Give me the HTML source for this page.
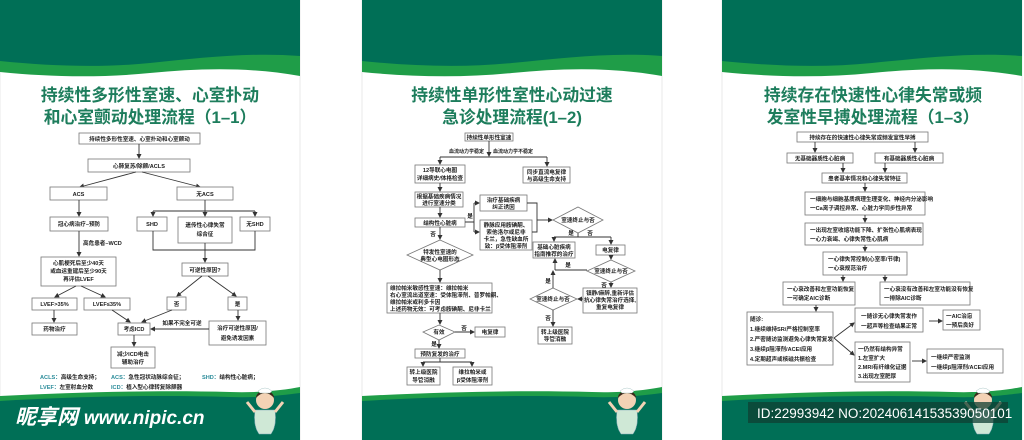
<!DOCTYPE html>
<html><head><meta charset="utf-8"><style>
html,body{margin:0;padding:0;background:#fff;}
svg{display:block;}
text{font-family:"Liberation Sans","Noto Sans CJK SC",sans-serif;fill:#222;}
.b{fill:#fff;stroke:#777;stroke-width:0.8;}
.t{font-size:5.6px;font-weight:bold;text-anchor:middle;}
.tl{font-size:5.6px;font-weight:bold;}
.ti{font-size:16.8px;font-weight:bold;fill:#1d7d5c;text-anchor:middle;}
.l{stroke:#333;stroke-width:0.9;fill:none;}
.a{stroke:#333;stroke-width:0.9;fill:none;marker-end:url(#ar);}
.d{fill:#fff;stroke:#777;stroke-width:0.8;}
</style></head><body>
<svg width="1024" height="440" viewBox="0 0 1024 440" xmlns="http://www.w3.org/2000/svg">
<defs>
<marker id="ar" markerWidth="5" markerHeight="5" refX="4" refY="2.5" orient="auto" markerUnits="userSpaceOnUse"><path d="M0,0 L5,2.5 L0,5 Z" fill="#333"/></marker>
<g id="hdr">
<rect x="0" y="0" width="300" height="440" fill="#fff" stroke="#ddd" stroke-width="0.6"/>
<path d="M0,72 C50,77 100,78 150,73 C200,68 250,67 300,76 V50 H0 Z" fill="#1f9d48"/>
<path d="M0,0 H300 V56 C250,52 200,58 150,63 C100,68 50,66 0,61 Z" fill="#006f56"/>
<path d="M0,396 C80,392 160,390 230,392 C260,393 285,390 300,387 V440 H0 Z" fill="#1f9d48"/>
<path d="M0,401 C80,396 160,395 230,397 C260,398 285,395 300,393 V440 H0 Z" fill="#006f56"/>
</g>
<g id="nurse">
<path d="M-10,12 Q-12,28 -6,36 H6 Q12,28 10,12 Z" fill="#cfe8d6" stroke="#8ab" stroke-width="0.5"/>
<circle cx="0" cy="2" r="9" fill="#f3d2b5"/>
<path d="M-9,0 Q0,-10 9,0 Q9,-6 0,-8 Q-9,-6 -9,0Z" fill="#3a2a1a"/>
<path d="M-7,-7 Q0,-13 7,-7 L5,-5 H-5Z" fill="#fff" stroke="#9bb" stroke-width="0.4"/>
<path d="M-10,14 L-18,4 M10,14 L18,4" stroke="#f3d2b5" stroke-width="3"/>
</g>
</defs>

<use href="#hdr" x="0"/>
<use href="#hdr" x="362"/>
<use href="#hdr" x="722"/>

<!-- ================= PANEL 1 ================= -->
<text class="ti" x="150" y="101">持续性多形性室速、心室扑动</text>
<text class="ti" x="150" y="123">和心室颤动处理流程（1–1）</text>
<rect class="b" x="79" y="133" width="121" height="11"/><text class="t" x="139.5" y="141">持续性多形性室速、心室扑动和心室颤动</text>
<line class="a" x1="139" y1="144" x2="139" y2="158"/>
<rect class="b" x="88" y="159" width="102" height="13"/><text class="t" x="139" y="168">心肺复苏/除颤/ACLS</text>
<line class="a" x1="136" y1="172" x2="80" y2="187"/>
<line class="a" x1="142" y1="172" x2="200" y2="187"/>
<rect class="b" x="50" y="187" width="57" height="13"/><text class="t" x="78.5" y="196">ACS</text>
<rect class="b" x="177" y="187" width="56" height="13"/><text class="t" x="205" y="196">无ACS</text>
<line class="a" x1="79" y1="200" x2="79" y2="216"/>
<rect class="b" x="50" y="217" width="58" height="14"/><text class="t" x="79" y="226">冠心病治疗–预防</text>
<line class="l" x1="205" y1="200" x2="205" y2="211"/>
<line class="l" x1="153" y1="211" x2="255" y2="211"/>
<line class="a" x1="153" y1="211" x2="153" y2="216"/>
<line class="a" x1="205" y1="211" x2="205" y2="216"/>
<line class="a" x1="255" y1="211" x2="255" y2="216"/>
<rect class="b" x="137" y="217" width="30" height="14"/><text class="t" x="152" y="226">SHD</text>
<rect class="b" x="178" y="217" width="54" height="26"/><text class="t" x="205" y="227">遗传性心律失常</text><text class="t" x="205" y="236">综合征</text>
<rect class="b" x="240" y="217" width="30" height="14"/><text class="t" x="255" y="226">无SHD</text>
<path class="l" d="M153,231 V250 H255 V231"/>
<line class="a" x1="205" y1="243" x2="205" y2="262"/>
<rect class="b" x="182" y="263" width="46" height="13"/><text class="t" x="205" y="272">可逆性原因?</text>
<line class="a" x1="79" y1="231" x2="79" y2="256"/>
<text class="tl" x="83" y="245">高危患者–WCD</text>
<rect class="b" x="41" y="257" width="75" height="29"/>
<text class="t" x="78.5" y="265">心肌梗死后至少40天</text><text class="t" x="78.5" y="273">或血运重建后至少90天</text><text class="t" x="78.5" y="281">再评估LVEF</text>
<line class="a" x1="76" y1="286" x2="55" y2="297"/>
<line class="a" x1="81" y1="286" x2="105" y2="297"/>
<rect class="b" x="32" y="298" width="45" height="12"/><text class="t" x="54.5" y="306">LVEF&gt;35%</text>
<rect class="b" x="84" y="298" width="46" height="12"/><text class="t" x="107" y="306">LVEF≤35%</text>
<line class="a" x1="54" y1="310" x2="54" y2="322"/>
<rect class="b" x="32" y="323" width="45" height="12"/><text class="t" x="54.5" y="331">药物治疗</text>
<line class="a" x1="202" y1="276" x2="177" y2="296"/>
<line class="a" x1="208" y1="276" x2="236" y2="296"/>
<rect class="b" x="167" y="297" width="19" height="13"/><text class="t" x="176.5" y="306">否</text>
<rect class="b" x="228" y="297" width="19" height="13"/><text class="t" x="237.5" y="306">是</text>
<line class="a" x1="112" y1="310" x2="130" y2="322"/>
<line class="a" x1="172" y1="310" x2="142" y2="322"/>
<line class="a" x1="238" y1="310" x2="238" y2="320"/>
<rect class="b" x="118" y="323" width="32" height="12"/><text class="t" x="134" y="331">考虑ICD</text>
<rect class="b" x="209" y="321" width="57" height="24"/><text class="t" x="237.5" y="330">治疗可逆性原因/</text><text class="t" x="237.5" y="340">避免诱发因素</text>
<line class="a" x1="209" y1="329" x2="151" y2="329"/>
<text class="t" x="182" y="325">如果不完全可逆</text>
<line class="a" x1="134" y1="335" x2="134" y2="346"/>
<rect class="b" x="111" y="347" width="44" height="21"/><text class="t" x="133" y="356">减少ICD电击</text><text class="t" x="133" y="364">辅助治疗</text>
<text class="tl" x="40" y="379"><tspan fill="#2b8c9a">ACLS：</tspan>高级生命支持；</text>
<text class="tl" x="111" y="379"><tspan fill="#2b8c9a">ACS：</tspan>急性冠状动脉综合征；</text>
<text class="tl" x="202" y="379"><tspan fill="#2b8c9a">SHD：</tspan>结构性心脏病；</text>
<text class="tl" x="40" y="389"><tspan fill="#2b8c9a">LVEF：</tspan>左室射血分数</text>
<text class="tl" x="111" y="389"><tspan fill="#2b8c9a">ICD：</tspan>植入型心律转复除颤器</text>
<text x="15" y="424" style="font-size:21px;font-weight:bold;fill:#fff;font-style:italic;">昵享网 <tspan style="font-size:19px">www.nipic.cn</tspan></text>
<use href="#nurse" x="265" y="398"/>

<!-- ================= PANEL 2 ================= -->
<text class="ti" x="512" y="101">持续性单形性室性心动过速</text>
<text class="ti" x="512" y="123">急诊处理流程(1–2)</text>
<rect class="b" x="465" y="133" width="48" height="8"/><text class="t" x="489" y="139.5">持续性单形性室速</text>
<line class="a" x1="489" y1="141" x2="489" y2="156"/>
<text class="tl" x="449" y="153" style="font-size:5px">血流动力学稳定</text>
<text class="tl" x="493" y="153" style="font-size:5px">血流动力学不稳定</text>
<line class="l" x1="440" y1="157" x2="547" y2="157"/>
<line class="a" x1="440" y1="157" x2="440" y2="164"/>
<line class="a" x1="547" y1="157" x2="547" y2="166"/>
<rect class="b" x="415" y="165" width="50" height="18"/><text class="t" x="440" y="172">12导联心电图</text><text class="t" x="440" y="180">详细病史/体格检查</text>
<rect class="b" x="523" y="167" width="47" height="16"/><text class="t" x="546.5" y="174">同步直流电复律</text><text class="t" x="546.5" y="181">与高级生命支持</text>
<line class="a" x1="440" y1="183" x2="440" y2="191"/>
<rect class="b" x="415" y="192" width="48" height="15"/><text class="t" x="439" y="198.5">根据基础疾病情况</text><text class="t" x="439" y="205">进行室速分类</text>
<line class="a" x1="440" y1="207" x2="440" y2="217"/>
<rect class="b" x="415" y="218" width="50" height="9"/><text class="t" x="440" y="225">结构性心脏病</text>
<text class="t" x="470" y="218">是</text>
<path class="l" d="M465,222 H474 M474,203 V232"/>
<line class="a" x1="474" y1="203" x2="479" y2="203"/>
<line class="a" x1="474" y1="232" x2="479" y2="232"/>
<rect class="b" x="480" y="195" width="47" height="16"/><text class="t" x="503.5" y="202">治疗基础疾病</text><text class="t" x="503.5" y="209">纠正诱因</text>
<rect class="b" x="480" y="220" width="52" height="30"/>
<text class="t" x="506" y="227">静脉应用胺碘酮、</text><text class="t" x="506" y="234">索他洛尔或尼非</text><text class="t" x="506" y="241">卡兰，急性缺血所</text><text class="t" x="506" y="248">致：β受体阻滞剂</text>
<path class="l" d="M527,203 H537 V232 H532"/>
<line class="a" x1="537" y1="220" x2="552" y2="220"/>
<polygon class="d" points="578,207 603,220 578,233 553,220"/><text class="t" x="578" y="222">室速终止与否</text>
<line class="l" x1="578" y1="233" x2="578" y2="237"/>
<line class="l" x1="554" y1="237" x2="611" y2="237"/>
<text class="t" x="571" y="235">是</text><text class="t" x="590" y="235">否</text>
<line class="a" x1="554" y1="237" x2="554" y2="241"/>
<line class="a" x1="611" y1="237" x2="611" y2="244"/>
<rect class="b" x="533" y="242" width="42" height="16"/><text class="t" x="554" y="249">基础心脏疾病</text><text class="t" x="554" y="256">指南推荐的治疗</text>
<rect class="b" x="596" y="245" width="29" height="10"/><text class="t" x="610.5" y="252">电复律</text>
<line class="a" x1="611" y1="255" x2="611" y2="259"/>
<polygon class="d" points="611,260 635,271 611,282 587,271"/><text class="t" x="611" y="273">室速终止与否</text>
<path class="l" d="M587,270 H555"/>
<line class="a" x1="555" y1="270" x2="555" y2="259"/>
<text class="t" x="568" y="267">是</text>
<text class="t" x="604" y="287">否</text>
<line class="a" x1="611" y1="282" x2="611" y2="287"/>
<rect class="b" x="583" y="288" width="54" height="25"/>
<text class="t" x="610" y="295">镇静/麻醉,重新评估</text><text class="t" x="610" y="302">抗心律失常治疗选择,</text><text class="t" x="610" y="309">重复电复律</text>
<line class="a" x1="583" y1="299" x2="578" y2="299"/>
<polygon class="d" points="553,288 577,299 553,310 530,299"/><text class="t" x="553" y="301">室速终止与否</text>
<line class="a" x1="553" y1="288" x2="553" y2="271"/>
<text class="t" x="548" y="283">是</text>
<text class="t" x="548" y="320">否</text>
<line class="a" x1="553" y1="310" x2="553" y2="326"/>
<rect class="b" x="538" y="327" width="34" height="17"/><text class="t" x="555" y="334">转上级医院</text><text class="t" x="555" y="341">导管消融</text>
<line class="a" x1="440" y1="227" x2="440" y2="239"/>
<text class="t" x="433" y="236">否</text>
<polygon class="d" points="440,240 473,255 440,270 407,255"/><text class="t" x="440" y="254">特发性室速的</text><text class="t" x="440" y="261">典型心电图形态</text>
<line class="a" x1="440" y1="270" x2="440" y2="282"/>
<rect class="b" x="387" y="283" width="105" height="30"/>
<text class="tl" x="390" y="290">维拉帕米敏感性室速：维拉帕米</text><text class="tl" x="390" y="297">右心室流出道室速：受体阻滞剂、普罗帕酮、</text><text class="tl" x="390" y="304">维拉帕米或利多卡因</text><text class="tl" x="390" y="311">上述药物无效：可考虑胺碘酮、尼非卡兰</text>
<line class="a" x1="440" y1="313" x2="440" y2="324"/>
<polygon class="d" points="439,325 455,332 439,340 423,332"/><text class="t" x="439" y="334">有效</text>
<line class="a" x1="455" y1="332" x2="474" y2="332"/><text class="t" x="464" y="330">否</text>
<rect class="b" x="475" y="327" width="30" height="10"/><text class="t" x="490" y="334">电复律</text>
<line class="a" x1="439" y1="340" x2="439" y2="348"/><text class="t" x="434" y="346">是</text>
<rect class="b" x="415" y="349" width="50" height="9"/><text class="t" x="440" y="356">预防复发的治疗</text>
<path class="l" d="M440,358 V362 M423,362 H472"/>
<line class="a" x1="423" y1="362" x2="423" y2="366"/>
<line class="a" x1="472" y1="362" x2="472" y2="366"/>
<rect class="b" x="407" y="367" width="33" height="18"/><text class="t" x="423.5" y="374">转上级医院</text><text class="t" x="423.5" y="382">导管消融</text>
<rect class="b" x="453" y="367" width="39" height="18"/><text class="t" x="472.5" y="374">维拉帕米或</text><text class="t" x="472.5" y="382">β受体阻滞剂</text>
<use href="#nurse" x="627" y="398"/>

<!-- ================= PANEL 3 ================= -->
<text class="ti" x="873" y="101">持续存在快速性心律失常或频</text>
<text class="ti" x="873" y="123">发室性早搏处理流程（1–3）</text>
<rect class="b" x="797" y="132" width="131" height="10"/><text class="t" x="862.5" y="139.5">持续存在的快速性心律失常或频发室性早搏</text>
<line class="a" x1="815" y1="142" x2="815" y2="152"/>
<line class="a" x1="915" y1="142" x2="915" y2="152"/>
<rect class="b" x="787" y="153" width="66" height="10"/><text class="t" x="820" y="160.5">无基础器质性心脏病</text>
<rect class="b" x="875" y="153" width="68" height="10"/><text class="t" x="909" y="160.5">有基础器质性心脏病</text>
<line class="a" x1="843" y1="163" x2="843" y2="172"/>
<line class="a" x1="885" y1="163" x2="885" y2="172"/>
<rect class="b" x="822" y="173" width="85" height="10"/><text class="t" x="864.5" y="180.5">患者基本情况和心律失常特征</text>
<line class="a" x1="865" y1="183" x2="865" y2="191"/>
<rect class="b" x="805" y="192" width="120" height="23"/>
<text class="tl" x="810" y="201">一细胞与细胞基质病理生理变化、神经内分泌影响</text><text class="tl" x="810" y="210">一Ca离子调控异常、心脏力学同步性异常</text>
<line class="a" x1="865" y1="215" x2="865" y2="222"/>
<rect class="b" x="805" y="223" width="118" height="22"/>
<text class="tl" x="810" y="232">一出现左室收缩功能下降、扩张性心肌病表现</text><text class="tl" x="810" y="241">一心力衰竭、心律失常性心肌病</text>
<line class="a" x1="865" y1="245" x2="865" y2="251"/>
<rect class="b" x="823" y="252" width="84" height="23"/>
<text class="tl" x="828" y="261">一心律失常控制(心室率/节律)</text><text class="tl" x="828" y="270">一心衰规范治疗</text>
<line class="a" x1="843" y1="275" x2="843" y2="281"/>
<line class="a" x1="885" y1="275" x2="885" y2="281"/>
<rect class="b" x="783" y="282" width="72" height="23"/>
<text class="tl" x="787" y="291">一心衰改善和左室功能恢复</text><text class="tl" x="787" y="300">一可确定AIC诊断</text>
<rect class="b" x="880" y="282" width="90" height="23"/>
<text class="tl" x="884" y="291">一心衰没有改善和左室功能没有恢复</text><text class="tl" x="884" y="300">一排除AIC诊断</text>
<line class="a" x1="816" y1="305" x2="816" y2="311"/>
<rect class="b" x="747" y="312" width="86" height="53"/>
<text class="tl" x="750" y="321">随诊:</text><text class="tl" x="750" y="331">1.继续维持SR/严格控制室率</text><text class="tl" x="750" y="341">2.严密随访监测避免心律失常复发</text><text class="tl" x="750" y="351">3.继续β阻滞剂/ACEI应用</text><text class="tl" x="750" y="361">4.定期超声或核磁共振检查</text>
<line class="a" x1="834" y1="338" x2="854" y2="323"/>
<line class="a" x1="834" y1="338" x2="854" y2="355"/>
<rect class="b" x="855" y="308" width="68" height="24"/>
<text class="tl" x="861" y="318">一随诊无心律失常发作</text><text class="tl" x="861" y="328">一超声等检查结果正常</text>
<line class="a" x1="929" y1="321" x2="942" y2="321"/>
<rect class="b" x="943" y="310" width="37" height="20"/>
<text class="tl" x="946" y="318">一AIC治愈</text><text class="tl" x="946" y="327">一预后良好</text>
<rect class="b" x="855" y="342" width="55" height="40"/>
<text class="tl" x="858" y="351">一仍然有结构异常</text><text class="tl" x="858" y="360">1.左室扩大</text><text class="tl" x="858" y="369">2.MRI有纤维化证据</text><text class="tl" x="858" y="378">3.出现左室肥厚</text>
<line class="a" x1="912" y1="361" x2="926" y2="361"/>
<rect class="b" x="927" y="349" width="76" height="24"/>
<text class="tl" x="931" y="359">一继续严密监测</text><text class="tl" x="931" y="369">一继续β阻滞剂/ACEI应用</text>
<use href="#nurse" x="983" y="398"/>
<rect x="748" y="402" width="260" height="21" fill="#0f3f33" opacity="0.75"/>
<text x="757" y="418" style="font-size:13.5px;fill:#fff;">ID:22993942 NO:20240614153539050101</text>
</svg>
</body></html>
